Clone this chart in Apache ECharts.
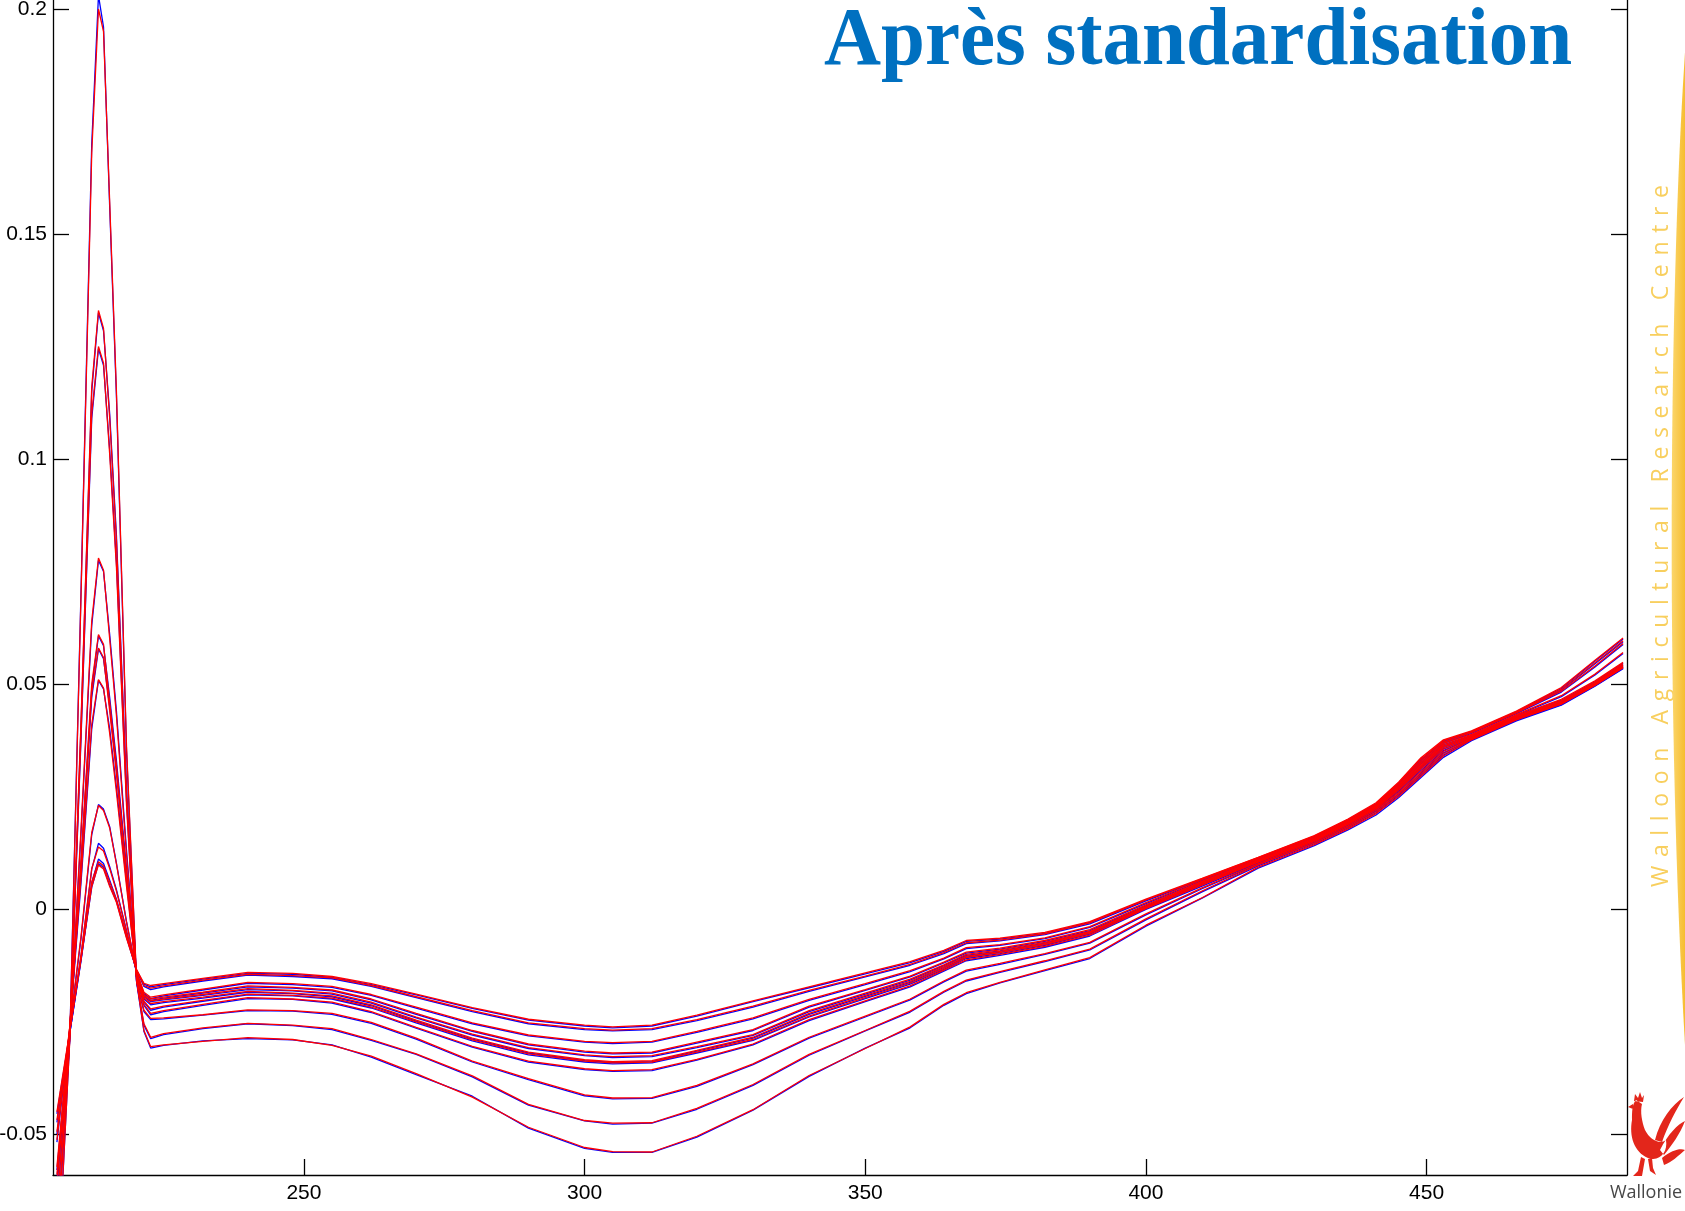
<!DOCTYPE html>
<html>
<head>
<meta charset="utf-8">
<script src="https://cdn.jsdelivr.net/npm/echarts@6/dist/echarts.min.js"></script>
<style>
  html, body { margin: 0; padding: 0; background: #ffffff; }
  #chart { width: 1685px; height: 1211px; }
</style>
</head>
<body>
<div id="chart"></div>
<script>
// Wavelength grid (nm) shared by every spectrum
const wavelengths = [206, 208.3, 210.3, 212.2, 213.4, 214.3, 215.4, 216.6, 218.4, 220.2,
  221.5, 222.7, 225, 232, 240, 248, 255, 262, 270, 280,
  290, 300, 305, 312, 320, 330, 340, 350, 358, 364,
  368, 374, 382, 390, 400, 410, 420, 430, 436, 441,
  445, 449, 453, 458, 466, 474, 480, 485];

const xTicks = [250, 300, 350, 400, 450];
const yTicks = [-0.05, 0, 0.05, 0.1, 0.15, 0.2];

// Standardised spectra (red traces)
const red01 = [-0.085, -0.029, 0.070, 0.168, 0.200, 0.195, 0.157, 0.115, 0.036, -0.016, -0.027, -0.0306, -0.0302, -0.0294, -0.0286, -0.0290, -0.0303, -0.0327, -0.0366, -0.0418, -0.0485, -0.0530, -0.0539, -0.0540, -0.0505, -0.0446, -0.0370, -0.0310, -0.0262, -0.0212, -0.0186, -0.0163, -0.0135, -0.0108, -0.0036, 0.0025, 0.0093, 0.0143, 0.0178, 0.0212, 0.0250, 0.0295, 0.0340, 0.0376, 0.0420, 0.0455, 0.0497, 0.0536];
const red02 = [-0.075, -0.028, 0.042, 0.116, 0.133, 0.129, 0.109, 0.082, 0.026, -0.016, -0.0255, -0.0285, -0.0277, -0.0264, -0.0254, -0.0258, -0.0266, -0.0290, -0.0322, -0.0371, -0.0434, -0.0470, -0.0476, -0.0475, -0.0443, -0.0390, -0.0323, -0.0270, -0.0227, -0.0183, -0.0158, -0.0139, -0.0115, -0.0089, -0.0022, 0.0040, 0.0098, 0.0147, 0.0182, 0.0216, 0.0255, 0.0300, 0.0345, 0.0378, 0.0422, 0.0456, 0.0498, 0.0537];
const red03 = [-0.072, -0.028, 0.039, 0.110, 0.125, 0.1213, 0.101, 0.076, 0.023, -0.016, -0.0225, -0.0243, -0.0242, -0.0235, -0.0224, -0.0226, -0.0232, -0.0252, -0.0287, -0.0338, -0.0377, -0.0413, -0.0420, -0.0419, -0.0392, -0.0344, -0.0285, -0.0238, -0.0200, -0.0160, -0.0136, -0.0121, -0.0099, -0.0074, -0.0011, 0.0047, 0.0101, 0.0150, 0.0185, 0.0220, 0.0259, 0.0305, 0.0350, 0.0379, 0.0423, 0.0457, 0.0499, 0.0538];
const red04 = [-0.066, -0.027, 0.018, 0.064, 0.078, 0.0753, 0.060, 0.043, 0.012, -0.015, -0.0212, -0.0232, -0.0226, -0.0212, -0.0197, -0.0200, -0.0207, -0.0228, -0.0263, -0.0305, -0.0338, -0.0355, -0.0359, -0.0357, -0.0334, -0.0300, -0.0246, -0.0204, -0.0171, -0.0136, -0.0113, -0.0101, -0.0083, -0.0058, 0.0001, 0.0053, 0.0104, 0.0152, 0.0188, 0.0223, 0.0264, 0.0311, 0.0355, 0.0381, 0.0425, 0.0459, 0.0500, 0.0540];
const red05 = [-0.061, -0.027, 0.011, 0.050, 0.061, 0.0588, 0.046, 0.032, 0.008, -0.015, -0.0205, -0.0222, -0.0216, -0.0203, -0.0189, -0.0192, -0.0198, -0.0218, -0.0251, -0.0291, -0.0322, -0.0338, -0.0342, -0.0340, -0.0318, -0.0290, -0.0238, -0.0197, -0.0165, -0.0132, -0.0108, -0.0097, -0.0079, -0.0054, 0.0003, 0.0056, 0.0105, 0.0153, 0.0190, 0.0225, 0.0267, 0.0315, 0.0359, 0.0382, 0.0427, 0.0461, 0.0502, 0.0542];
const red06 = [-0.059, -0.026, 0.010, 0.048, 0.058, 0.0559, 0.044, 0.030, 0.007, -0.015, -0.0198, -0.0210, -0.0206, -0.0196, -0.0183, -0.0187, -0.0193, -0.0213, -0.0247, -0.0287, -0.0318, -0.0335, -0.0339, -0.0337, -0.0314, -0.0285, -0.0232, -0.0192, -0.0161, -0.0128, -0.0105, -0.0094, -0.0077, -0.0052, 0.0005, 0.0058, 0.0107, 0.0155, 0.0191, 0.0227, 0.0269, 0.0318, 0.0362, 0.0384, 0.0428, 0.0463, 0.0504, 0.0545];
const red07 = [-0.0573, -0.026, 0.007, 0.041, 0.051, 0.0491, 0.039, 0.026, 0.005, -0.015, -0.0193, -0.0204, -0.0200, -0.0190, -0.0177, -0.0181, -0.0187, -0.0207, -0.0240, -0.0278, -0.0308, -0.0324, -0.0328, -0.0326, -0.0306, -0.0279, -0.0226, -0.0187, -0.0156, -0.0124, -0.0101, -0.0091, -0.0074, -0.0050, 0.0006, 0.0060, 0.0108, 0.0156, 0.0192, 0.0228, 0.0271, 0.0321, 0.0365, 0.0386, 0.0430, 0.0466, 0.0507, 0.0548];
const red08 = [-0.0513, -0.026, -0.006, 0.017, 0.023, 0.0219, 0.018, 0.010, -0.003, -0.014, -0.0190, -0.0200, -0.0196, -0.0185, -0.0171, -0.0174, -0.0180, -0.0200, -0.0232, -0.0270, -0.0300, -0.0316, -0.0320, -0.0318, -0.0296, -0.0268, -0.0216, -0.0179, -0.0149, -0.0118, -0.0096, -0.0087, -0.0070, -0.0046, 0.0009, 0.0062, 0.0110, 0.0158, 0.0194, 0.0230, 0.0274, 0.0325, 0.0368, 0.0388, 0.0432, 0.0474, 0.0522, 0.0570];
const red09 = [-0.0495, -0.027, -0.010, 0.009, 0.0138, 0.0129, 0.009, 0.004, -0.005, -0.014, -0.0185, -0.0196, -0.0191, -0.0178, -0.0163, -0.0166, -0.0172, -0.0190, -0.0218, -0.0253, -0.0280, -0.0294, -0.0297, -0.0294, -0.0272, -0.0242, -0.0201, -0.0166, -0.0137, -0.0109, -0.0086, -0.0079, -0.0064, -0.0039, 0.0014, 0.0065, 0.0112, 0.0160, 0.0196, 0.0232, 0.0277, 0.0329, 0.0371, 0.0392, 0.0436, 0.0484, 0.0540, 0.0590];
const red10 = [-0.0469, -0.027, -0.011, 0.006, 0.0105, 0.0096, 0.006, 0.002, -0.006, -0.0135, -0.0170, -0.0176, -0.0171, -0.0158, -0.0145, -0.0148, -0.0153, -0.0170, -0.0195, -0.0226, -0.0253, -0.0266, -0.0269, -0.0266, -0.0246, -0.0216, -0.0181, -0.0149, -0.0123, -0.0097, -0.0075, -0.0069, -0.0055, -0.0031, 0.0020, 0.0067, 0.0114, 0.0162, 0.0198, 0.0234, 0.0280, 0.0333, 0.0374, 0.0394, 0.0438, 0.0488, 0.0547, 0.0596];
const red11 = [-0.0451, -0.027, -0.011, 0.005, 0.0098, 0.0089, 0.005, 0.0015, -0.0065, -0.0135, -0.0165, -0.0170, -0.0166, -0.0154, -0.0141, -0.0143, -0.0150, -0.0166, -0.0189, -0.0219, -0.0245, -0.0258, -0.0262, -0.0258, -0.0236, -0.0204, -0.0173, -0.0142, -0.0117, -0.0092, -0.0070, -0.0065, -0.0052, -0.0028, 0.0022, 0.0068, 0.0115, 0.0163, 0.0200, 0.0236, 0.0282, 0.0336, 0.0376, 0.0396, 0.0440, 0.0492, 0.0553, 0.0602];

// Reference spectra (blue traces)
const blue01 = [-0.086, -0.0285, 0.071, 0.170, 0.203, 0.196, 0.156, 0.114, 0.035, -0.0163, -0.0272, -0.0309, -0.0303, -0.0293, -0.0288, -0.0291, -0.0302, -0.0329, -0.0368, -0.0416, -0.0487, -0.0532, -0.0541, -0.0541, -0.0507, -0.0447, -0.0372, -0.0309, -0.0264, -0.0214, -0.0188, -0.0164, -0.0137, -0.0110, -0.0038, 0.0024, 0.0091, 0.0141, 0.0176, 0.0209, 0.0247, 0.0292, 0.0337, 0.0374, 0.0418, 0.0453, 0.0495, 0.0534];
const blue02 = [-0.076, -0.0285, 0.041, 0.115, 0.1325, 0.1285, 0.110, 0.083, 0.027, -0.0162, -0.0258, -0.0288, -0.0279, -0.0266, -0.0255, -0.0259, -0.0268, -0.0292, -0.0323, -0.0373, -0.0436, -0.0471, -0.0478, -0.0476, -0.0445, -0.0392, -0.0325, -0.0271, -0.0229, -0.0185, -0.0160, -0.0141, -0.0117, -0.0091, -0.0024, 0.0038, 0.0096, 0.0145, 0.0180, 0.0214, 0.0252, 0.0297, 0.0342, 0.0376, 0.0420, 0.0454, 0.0496, 0.0535];
const blue03 = [-0.073, -0.0285, 0.038, 0.109, 0.1245, 0.1208, 0.102, 0.077, 0.024, -0.0162, -0.0228, -0.0246, -0.0244, -0.0236, -0.0226, -0.0227, -0.0234, -0.0254, -0.0289, -0.0340, -0.0379, -0.0415, -0.0422, -0.0421, -0.0394, -0.0346, -0.0287, -0.0240, -0.0202, -0.0162, -0.0138, -0.0123, -0.0101, -0.0076, -0.0013, 0.0045, 0.0099, 0.0148, 0.0183, 0.0218, 0.0256, 0.0302, 0.0347, 0.0377, 0.0421, 0.0455, 0.0497, 0.0536];
const blue04 = [-0.067, -0.0275, 0.017, 0.063, 0.0775, 0.0750, 0.061, 0.044, 0.013, -0.0152, -0.0214, -0.0235, -0.0228, -0.0214, -0.0199, -0.0201, -0.0209, -0.0230, -0.0265, -0.0307, -0.0340, -0.0357, -0.0361, -0.0359, -0.0336, -0.0302, -0.0248, -0.0206, -0.0173, -0.0138, -0.0115, -0.0103, -0.0085, -0.0060, -0.0001, 0.0051, 0.0102, 0.0150, 0.0186, 0.0221, 0.0261, 0.0308, 0.0352, 0.0379, 0.0423, 0.0457, 0.0498, 0.0538];
const blue05 = [-0.062, -0.0275, 0.010, 0.049, 0.0607, 0.0585, 0.047, 0.033, 0.009, -0.0152, -0.0207, -0.0225, -0.0218, -0.0205, -0.0191, -0.0193, -0.0200, -0.0220, -0.0253, -0.0293, -0.0324, -0.0340, -0.0344, -0.0342, -0.0320, -0.0292, -0.0240, -0.0199, -0.0167, -0.0134, -0.0110, -0.0099, -0.0081, -0.0056, 0.0001, 0.0054, 0.0103, 0.0151, 0.0188, 0.0223, 0.0264, 0.0312, 0.0356, 0.0380, 0.0425, 0.0459, 0.0500, 0.0540];
const blue06 = [-0.060, -0.0265, 0.009, 0.047, 0.0578, 0.0556, 0.045, 0.031, 0.008, -0.0152, -0.0200, -0.0213, -0.0208, -0.0198, -0.0185, -0.0188, -0.0195, -0.0215, -0.0249, -0.0289, -0.0320, -0.0337, -0.0341, -0.0339, -0.0316, -0.0287, -0.0234, -0.0194, -0.0163, -0.0130, -0.0107, -0.0096, -0.0079, -0.0054, 0.0003, 0.0056, 0.0105, 0.0153, 0.0189, 0.0225, 0.0266, 0.0315, 0.0359, 0.0382, 0.0426, 0.0461, 0.0502, 0.0543];
const blue07 = [-0.0580, -0.0265, 0.006, 0.040, 0.0508, 0.0489, 0.040, 0.027, 0.006, -0.0152, -0.0195, -0.0206, -0.0202, -0.0192, -0.0179, -0.0182, -0.0189, -0.0209, -0.0242, -0.0280, -0.0310, -0.0326, -0.0330, -0.0328, -0.0308, -0.0281, -0.0228, -0.0189, -0.0158, -0.0126, -0.0103, -0.0093, -0.0076, -0.0052, 0.0004, 0.0058, 0.0106, 0.0154, 0.0190, 0.0226, 0.0268, 0.0318, 0.0362, 0.0384, 0.0428, 0.0464, 0.0505, 0.0546];
const blue08 = [-0.0518, -0.0265, -0.0065, 0.0165, 0.0232, 0.0222, 0.0183, 0.0102, -0.0028, -0.0142, -0.0192, -0.0203, -0.0198, -0.0187, -0.0173, -0.0176, -0.0182, -0.0202, -0.0234, -0.0272, -0.0302, -0.0318, -0.0322, -0.0320, -0.0298, -0.0270, -0.0218, -0.0181, -0.0151, -0.0120, -0.0098, -0.0089, -0.0072, -0.0048, 0.0007, 0.0060, 0.0108, 0.0156, 0.0192, 0.0228, 0.0271, 0.0322, 0.0365, 0.0386, 0.0430, 0.0472, 0.0520, 0.0568];
const blue09 = [-0.0500, -0.0275, -0.0105, 0.0088, 0.0146, 0.0135, 0.0094, 0.0043, -0.0048, -0.0142, -0.0188, -0.0199, -0.0193, -0.0180, -0.0165, -0.0168, -0.0174, -0.0192, -0.0220, -0.0255, -0.0282, -0.0296, -0.0299, -0.0296, -0.0274, -0.0244, -0.0203, -0.0168, -0.0139, -0.0111, -0.0088, -0.0081, -0.0066, -0.0041, 0.0012, 0.0063, 0.0110, 0.0158, 0.0194, 0.0230, 0.0274, 0.0326, 0.0368, 0.0390, 0.0434, 0.0482, 0.0538, 0.0588];
const blue10 = [-0.0474, -0.0275, -0.0115, 0.0058, 0.0111, 0.0101, 0.0064, 0.0022, -0.0058, -0.0137, -0.0172, -0.0179, -0.0173, -0.0160, -0.0147, -0.0150, -0.0155, -0.0172, -0.0197, -0.0228, -0.0255, -0.0268, -0.0271, -0.0268, -0.0248, -0.0218, -0.0183, -0.0151, -0.0125, -0.0099, -0.0077, -0.0071, -0.0057, -0.0033, 0.0018, 0.0065, 0.0112, 0.0160, 0.0196, 0.0232, 0.0277, 0.0330, 0.0371, 0.0392, 0.0436, 0.0486, 0.0545, 0.0594];
const blue11 = [-0.0455, -0.0275, -0.0112, 0.0048, 0.0101, 0.0092, 0.0053, 0.0017, -0.0063, -0.0137, -0.0167, -0.0173, -0.0168, -0.0156, -0.0143, -0.0145, -0.0152, -0.0168, -0.0191, -0.0221, -0.0247, -0.0260, -0.0264, -0.0260, -0.0238, -0.0206, -0.0175, -0.0144, -0.0119, -0.0094, -0.0072, -0.0067, -0.0054, -0.0030, 0.0020, 0.0066, 0.0113, 0.0161, 0.0198, 0.0234, 0.0279, 0.0333, 0.0373, 0.0394, 0.0438, 0.0490, 0.0551, 0.0600];

const redSet = [red01, red02, red03, red04, red05, red06, red07, red08, red09, red10, red11];
const blueSet = [blue01, blue02, blue03, blue04, blue05, blue06, blue07, blue08, blue09, blue10, blue11];

const X_MIN = 205.3, X_MAX = 485.7;
const Y_MIN = -0.05911, Y_MAX = 0.202;

function toPoints(values) {
  return wavelengths.map((w, i) => [w, values[i]]);
}

function spectrumSeries(values, color, z) {
  return {
    type: 'line',
    data: toPoints(values),
    showSymbol: false,
    symbol: 'none',
    silent: true,
    animation: false,
    z: z,
    lineStyle: { color: color, width: 1.3 },
    emphasis: { disabled: true }
  };
}

const series = [];
blueSet.forEach(v => series.push(spectrumSeries(v, '#0000ff', 2)));
redSet.forEach(v => series.push(spectrumSeries(v, '#ff0000', 3)));

// Logo artwork on the right margin: yellow swoosh and the red rooster
const swooshPath = 'M1686,38 C1670,260 1664,700 1686,1062 Z';
const roosterPath =
  'M1632,1120 C1629,1136 1634,1152 1648,1158 C1660,1162 1668,1152 1666,1140 C1660,1145 1650,1140 1645,1130 C1642,1122 1640,1112 1642,1104 L1636,1100 C1632,1104 1632,1112 1632,1120 Z ' +
  'M1634,1101 L1635,1094 L1638,1098 L1640,1092 L1642,1098 L1644,1095 L1643,1102 Z ' +
  'M1633,1104 L1628,1107 L1633,1109 Z ' +
  'M1655,1140 C1660,1120 1672,1105 1684,1097 C1676,1110 1668,1125 1662,1142 Z ' +
  'M1660,1150 C1668,1134 1678,1124 1685,1121 C1680,1134 1672,1145 1664,1155 Z ' +
  'M1662,1158 C1672,1150 1680,1148 1685,1150 C1678,1156 1672,1162 1664,1165 Z ' +
  'M1641,1157 L1638,1171 L1633,1176 L1642,1176 L1645,1159 Z ' +
  'M1648,1159 L1650,1171 L1656,1175 L1653,1168 L1652,1158 Z';

series.push({
  type: 'custom',
  coordinateSystem: 'none',
  silent: true,
  animation: false,
  z: 1,
  data: [[0]],
  renderItem: function () {
    return {
      type: 'group',
      children: [
        {
          type: 'path',
          shape: { pathData: swooshPath },
          style: { fill: new echarts.graphic.LinearGradient(0, 0, 1, 0, [
            { offset: 0, color: '#fbd66c' }, { offset: 1, color: '#f6bb2c' }
          ]) }
        },
        {
          type: 'path',
          shape: { pathData: roosterPath },
          style: { fill: '#e3261b' }
        }
      ]
    };
  }
});

const axisFont = { color: '#000', fontSize: 21, fontFamily: '"Liberation Sans", Arial, sans-serif' };
const axisLineStyle = { color: '#000', width: 1.3 };

// Letter-spaced vertical caption on the right-hand side
const caption = 'Walloon Agricultural Research Centre';
const captionFont = '23px "Open Sans", sans-serif';
const measureCtx = document.createElement('canvas').getContext('2d');
measureCtx.font = captionFont;
const charWidths = Array.from(caption).map(ch => measureCtx.measureText(ch).width);
const captionStart = 887, captionEnd = 185;
const spacing = ((captionStart - captionEnd) - charWidths.reduce((a, b) => a + b, 0)) / (caption.length - 1);
const captionGraphics = [];
let offset = 0;
Array.from(caption).forEach((ch, i) => {
  captionGraphics.push({
    type: 'text',
    x: 1661,
    y: captionStart - offset,
    rotation: Math.PI / 2,
    silent: true,
    style: { text: ch, x: 0, y: 0, font: captionFont, fill: '#f8cf5e', textAlign: 'left', textVerticalAlign: 'middle' }
  });
  offset += charWidths[i] + spacing;
});

const option = {
  animation: false,
  backgroundColor: '#ffffff',
  grid: { left: 53, right: 58, top: 0, bottom: 36, containLabel: false, outerBoundsMode: 'none' },
  xAxis: {
    type: 'value',
    min: X_MIN,
    max: X_MAX,
    axisLine: { show: true, onZero: false, lineStyle: axisLineStyle },
    axisTick: { show: true, inside: true, length: 16, customValues: xTicks, lineStyle: axisLineStyle },
    axisLabel: Object.assign({ customValues: xTicks, margin: 8 }, axisFont),
    splitLine: { show: false }
  },
  yAxis: [
    {
      type: 'value',
      min: Y_MIN,
      max: Y_MAX,
      axisLine: { show: true, onZero: false, lineStyle: axisLineStyle },
      axisTick: { show: true, inside: true, length: 16, customValues: yTicks, lineStyle: axisLineStyle },
      axisLabel: Object.assign({
        customValues: yTicks,
        margin: 6,
        formatter: v => String(parseFloat(Number(v).toFixed(3)))
      }, axisFont),
      splitLine: { show: false }
    },
    {
      type: 'value',
      position: 'right',
      min: Y_MIN,
      max: Y_MAX,
      axisLine: { show: true, onZero: false, lineStyle: axisLineStyle },
      axisTick: { show: true, inside: true, length: 16, customValues: yTicks, lineStyle: axisLineStyle },
      axisLabel: { show: false },
      splitLine: { show: false }
    }
  ],
  series: series,
  graphic: [
    {
      type: 'text',
      x: 824,
      y: 2,
      scaleX: 0.963,
      silent: true,
      z: 10,
      style: {
        text: 'Après standardisation',
        x: 0,
        y: 0,
        font: 'bold 82px "Liberation Serif", "Times New Roman", serif',
        fill: '#0070c0',
        textAlign: 'left',
        textVerticalAlign: 'top'
      }
    },
    ...captionGraphics,
    {
      type: 'text',
      x: 1646,
      y: 1193,
      silent: true,
      style: {
        text: 'Wallonie',
        font: '18px "Open Sans", sans-serif',
        fill: '#474747',
        textAlign: 'center',
        textVerticalAlign: 'middle'
      }
    }
  ]
};

const chart = echarts.init(document.getElementById('chart'), null, { renderer: 'canvas', width: 1685, height: 1211 });
chart.setOption(option);
</script>
</body>
</html>
